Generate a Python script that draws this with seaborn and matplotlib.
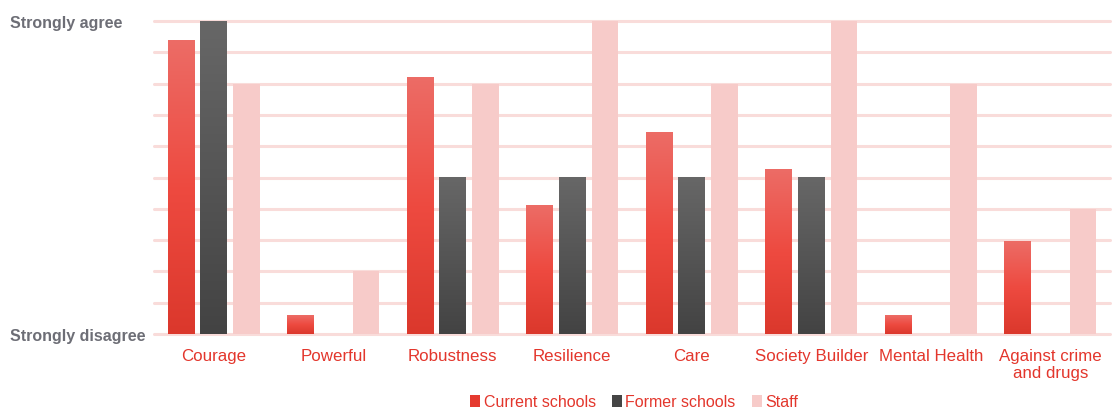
import numpy as np
import pandas as pd
import matplotlib
matplotlib.use("Agg")
import matplotlib.pyplot as plt
import seaborn as sns
from matplotlib.colors import LinearSegmentedColormap
from matplotlib.patches import Patch

# Survey scores on a 0 (strongly disagree) .. 10 (strongly agree) scale
categories = ["Courage", "Powerful", "Robustness", "Resilience", "Care",
              "Society Builder", "Mental Health", "Against crime\nand drugs"]
current_schools = [9.37, 0.58, 8.21, 4.12, 6.45, 5.27, 0.58, 2.95]
former_schools = [10, np.nan, 5, 5, 5, 5, np.nan, np.nan]
staff = [8, 2, 8, 10, 8, 10, 8, 4]
groups = ["Current schools", "Former schools", "Staff"]
scale_labels = ["Strongly disagree", "Strongly agree"]

RED = "#E3362C"
GREY_TXT = "#6D6E76"
GRID = "#F9DCDA"
flat_colors = ["#E53A2F", "#454545", "#F7CBC9"]
gradients = [
    LinearSegmentedColormap.from_list("cur", ["#DB382C", "#EE4A40", "#EC6C66"]),
    LinearSegmentedColormap.from_list("former", ["#434343", "#676767"]),
    None,
]

df = pd.DataFrame({
    "category": categories * 3,
    "group": np.repeat(groups, len(categories)),
    "score": current_schools + former_schools + staff,
}).dropna()

sns.set_theme(style="white")
plt.rcParams["font.family"] = ["Liberation Sans", "DejaVu Sans"]

fig = plt.figure(figsize=(11.13, 4.14), dpi=100)
ax = fig.add_axes([154 / 1113, 1 - 335 / 414, 956 / 1113, 313 / 414])

sns.barplot(data=df, x="category", y="score", hue="group",
            order=categories, hue_order=groups, palette=flat_colors,
            width=0.82, gap=0.18, saturation=1, errorbar=None,
            legend=False, linewidth=0, ax=ax)

# Vertical gradient fill for the first two series
grad = np.linspace(0, 1, 256).reshape(-1, 1)
for container, cmap in zip(ax.containers, gradients):
    if cmap is None:
        continue
    for bar in container:
        h = bar.get_height()
        if not np.isfinite(h) or h <= 0:
            continue
        x0, y0 = bar.get_xy()
        w = bar.get_width()
        bar.set_facecolor("none")
        ax.imshow(grad, extent=[x0, x0 + w, y0, y0 + h], origin="lower",
                  cmap=cmap, aspect="auto", zorder=bar.get_zorder() - 0.05,
                  interpolation="bilinear")

ax.set_xlim(-0.5, len(categories) - 0.5)
ax.set_ylim(0, 10)
ax.set_yticks(range(0, 11))
ax.set_yticklabels([scale_labels[0]] + [""] * 9 + [scale_labels[1]])
ax.set_axisbelow(True)
ax.grid(axis="y", color=GRID, linewidth=2.2)
for gl in ax.get_ygridlines():
    gl.set_clip_on(False)
ax.grid(axis="x", visible=False)
for s in ax.spines.values():
    s.set_visible(False)

ax.set_xlabel("")
ax.set_ylabel("")
ax.tick_params(axis="y", length=0, pad=104, labelsize=11.5, labelcolor=GREY_TXT)
for lbl in ax.get_yticklabels():
    lbl.set_ha("left")
    lbl.set_fontweight("bold")
ax.tick_params(axis="x", length=0, pad=10, labelsize=12.2, labelcolor=RED)
for lbl in ax.get_xticklabels():
    lbl.set_linespacing(1.2)

handles = [Patch(facecolor=c, edgecolor="none", label=g)
           for c, g in zip(flat_colors, groups)]
leg = fig.legend(handles=handles, loc="center", ncol=3, frameon=False,
                 bbox_to_anchor=(634 / 1113, 1 - 403 / 414),
                 fontsize=11.5, handlelength=0.65, handleheight=0.75,
                 handletextpad=0.2, columnspacing=1.0)
for t in leg.get_texts():
    t.set_color(RED)

fig.savefig("out.png", dpi=100)
